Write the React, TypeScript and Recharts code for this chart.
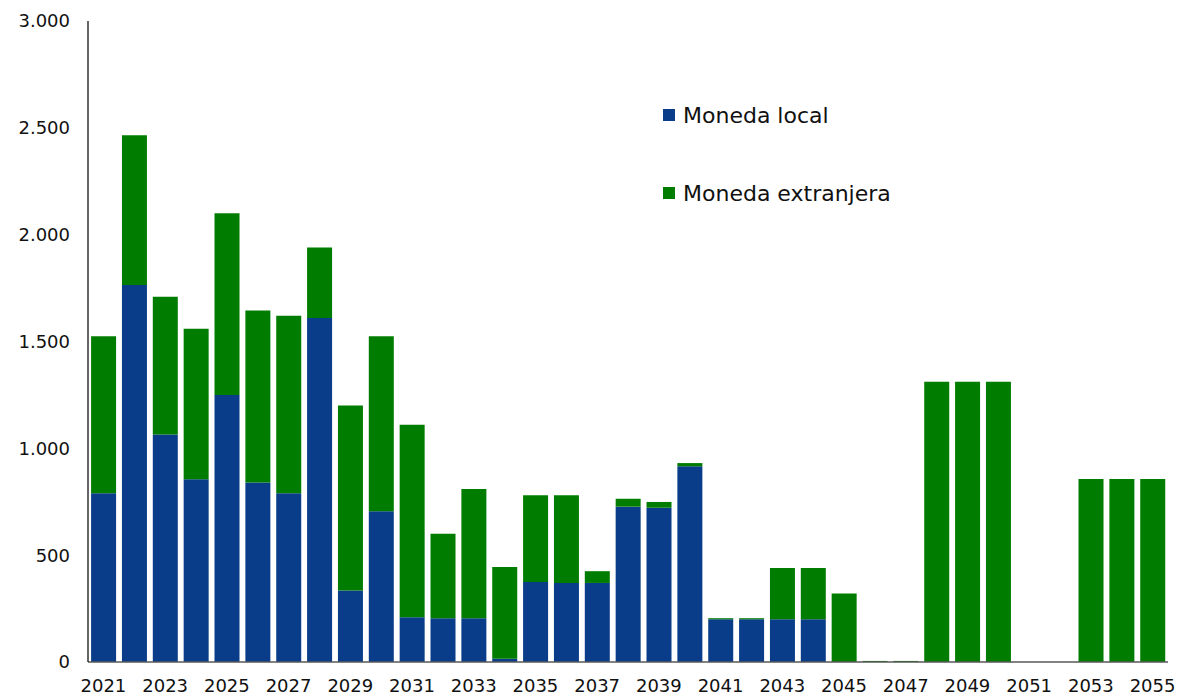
import { Bar, BarChart, XAxis, YAxis } from 'recharts'

const years = [
  '2021', '2022', '2023', '2024', '2025', '2026', '2027', '2028', '2029', '2030',
  '2031', '2032', '2033', '2034', '2035', '2036', '2037', '2038', '2039', '2040',
  '2041', '2042', '2043', '2044', '2045', '2046', '2047', '2048', '2049', '2050',
  '2051', '2052', '2053', '2054', '2055',
]

const monedaLocal = [
  790, 1765, 1065, 855, 1250, 840, 790, 1610, 335, 705,
  210, 205, 205, 15, 375, 370, 370, 727, 722, 916,
  200, 200, 200, 200, 0, 0, 0, 0, 0, 0,
  0, 0, 0, 0, 0,
]

const monedaExtranjera = [
  735, 700, 645, 705, 850, 805, 830, 330, 865, 820,
  900, 395, 605, 430, 405, 410, 55, 37, 27, 15,
  5, 5, 240, 240, 321, 5, 5, 1312, 1312, 1312,
  0, 0, 856, 856, 856,
]

const yTicks = [0, 500, 1000, 1500, 2000, 2500, 3000]

const data = years.map((year, i) => ({
  year,
  local: monedaLocal[i],
  extranjera: monedaExtranjera[i],
}))

const BLUE = '#0a3d89'
const GREEN = '#007d00'
const FONT = '"DejaVu Sans", sans-serif'

const formatThousands = (v: number) =>
  String(v).replace(/\B(?=(\d{3})+(?!\d))/g, '.')

// legend drawn as an overlay so it doesn't eat into the plot area
function LegendBox() {
  const items = [
    { label: 'Moneda local', color: BLUE },
    { label: 'Moneda extranjera', color: GREEN },
  ]
  return (
    <div
      style={{
        position: 'absolute',
        top: 101,
        left: 663,
        fontFamily: FONT,
        fontSize: 22,
        color: '#111',
      }}
    >
      {items.map((it) => (
        <div
          key={it.label}
          style={{ display: 'flex', alignItems: 'center', height: 28, marginBottom: 50 }}
        >
          <span
            style={{
              display: 'inline-block',
              width: 12,
              height: 12,
              background: it.color,
              marginRight: 8,
            }}
          />
          <span>{it.label}</span>
        </div>
      ))}
    </div>
  )
}

export default function App() {
  return (
    <div style={{ position: 'relative', width: 1180, height: 698 }}>
      <style>{'body{margin:0}'}</style>
      <BarChart
        width={1180}
        height={698}
        data={data}
        margin={{ top: 21, right: 12, left: 0, bottom: 0 }}
        barCategoryGap="10%"
      >
        <XAxis
          dataKey="year"
          interval={1}
          height={36}
          tickLine={false}
          axisLine={{ stroke: '#595959', strokeWidth: 1.5 }}
          tick={{ fill: '#111', fontSize: 18, fontFamily: FONT }}
          tickMargin={11}
        />
        <YAxis
          width={88}
          domain={[0, 3000]}
          ticks={yTicks}
          tickFormatter={formatThousands}
          tickLine={false}
          axisLine={{ stroke: '#000', strokeWidth: 1.2 }}
          tick={{ fill: '#111', fontSize: 18, fontFamily: FONT }}
          tickMargin={12}
        />
        <Bar
          dataKey="local"
          name="Moneda local"
          stackId="a"
          fill={BLUE}
          isAnimationActive={false}
        />
        <Bar
          dataKey="extranjera"
          name="Moneda extranjera"
          stackId="a"
          fill={GREEN}
          isAnimationActive={false}
        />
      </BarChart>
      <LegendBox />
    </div>
  )
}
